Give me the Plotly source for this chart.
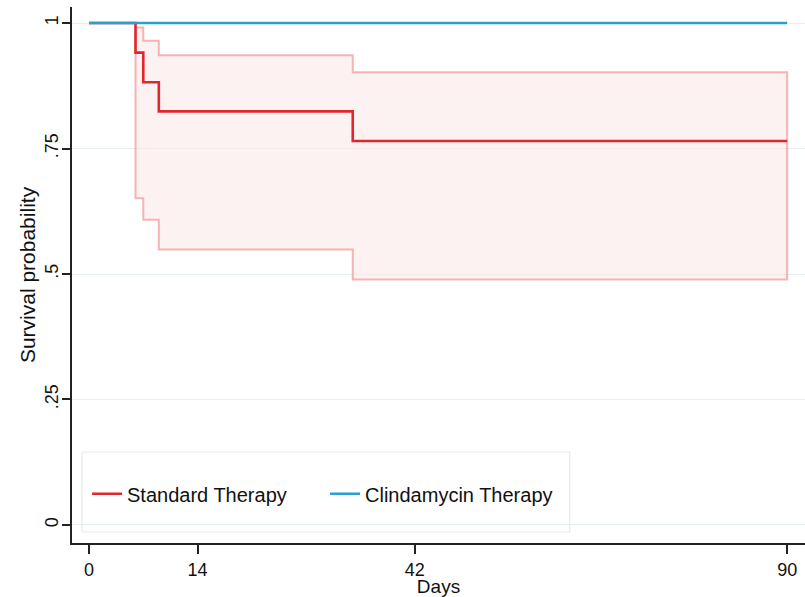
import plotly.graph_objects as go

# ---- data ----
days_std = [0, 6, 7, 9, 34, 90]
surv_std = [1.0, 0.941, 0.882, 0.824, 0.765, 0.765]
ci_upper = [1.0, 0.991, 0.965, 0.936, 0.902, 0.902]
ci_lower = [1.0, 0.651, 0.608, 0.549, 0.489, 0.489]
days_clinda = [0, 90]
surv_clinda = [1.0, 1.0]
x_ticks = [0, 14, 42, 90]
y_ticks = [0, 0.25, 0.5, 0.75, 1]
y_ticklabels = ["0", ".25", ".5", ".75", "1"]

RED = "#e3262d"
BLUE = "#2a9fd4"
CI_LINE = "rgba(240,120,120,0.55)"
CI_FILL = "rgba(252,232,232,0.55)"
FONT = "Liberation Sans"


def step_path(xs, ys):
    px, py = [xs[0]], [ys[0]]
    for i in range(1, len(xs)):
        px += [xs[i], xs[i]]
        py += [ys[i - 1], ys[i]]
    return px, py


ux, uy = step_path(days_std, ci_upper)
lx, ly = step_path(days_std, ci_lower)
poly_x = ux + lx[::-1]
poly_y = uy + ly[::-1]

fig = go.Figure()
fig.add_trace(go.Scatter(x=poly_x, y=poly_y, mode="lines", fill="toself",
                         fillcolor=CI_FILL, line=dict(color=CI_LINE, width=2),
                         showlegend=False, hoverinfo="skip"))
fig.add_trace(go.Scatter(x=days_std, y=surv_std, mode="lines", line_shape="hv",
                         line=dict(color=RED, width=2.6), name="Standard Therapy"))
fig.add_trace(go.Scatter(x=days_clinda, y=surv_clinda, mode="lines",
                         line=dict(color=BLUE, width=2.6), name="Clindamycin Therapy"))

# legend box
fig.add_shape(type="rect", xref="paper", yref="paper",
              x0=0.0136, x1=0.679, y0=0.0205, y1=0.1698,
              line=dict(color="#e4eaec", width=1.2), fillcolor="white", layer="below")

fig.update_layout(
    width=805, height=597,
    margin=dict(l=72, r=0, t=7, b=54),
    paper_bgcolor="white", plot_bgcolor="white",
    font=dict(family=FONT, size=18, color="#111111"),
    legend=dict(orientation="h", x=0.0205, xanchor="left", y=0.092, yanchor="middle",
                bgcolor="rgba(0,0,0,0)", borderwidth=0,
                font=dict(family=FONT, size=20, color="#111111"),
                entrywidth=193, entrywidthmode="pixels", itemwidth=30),
    xaxis=dict(range=[-2.19, 92.3], tickvals=x_ticks, ticks="outside", ticklen=9,
               tickwidth=1.5, tickcolor="#222222", showline=True, linecolor="#222222",
               linewidth=1.8, showgrid=False, zeroline=False, automargin=False,
               tickfont=dict(family=FONT, size=18, color="#111111"),
               title=dict(text="Days", standoff=8, font=dict(family=FONT, size=19))),
    yaxis=dict(range=[-0.036, 1.032], tickvals=y_ticks, ticktext=y_ticklabels,
               tickangle=-90, ticks="outside", ticklen=8, tickwidth=1.5,
               tickcolor="#222222", showline=True, linecolor="#222222", linewidth=1.8,
               showgrid=True, gridcolor="#e6eff1", gridwidth=1.2, zeroline=False,
               automargin=False,
               tickfont=dict(family=FONT, size=18, color="#111111"),
               ticklabelstandoff=-3,
               title=dict(text="Survival probability", standoff=1,
                          font=dict(family=FONT, size=21))),
)

fig.write_html("out.html")
